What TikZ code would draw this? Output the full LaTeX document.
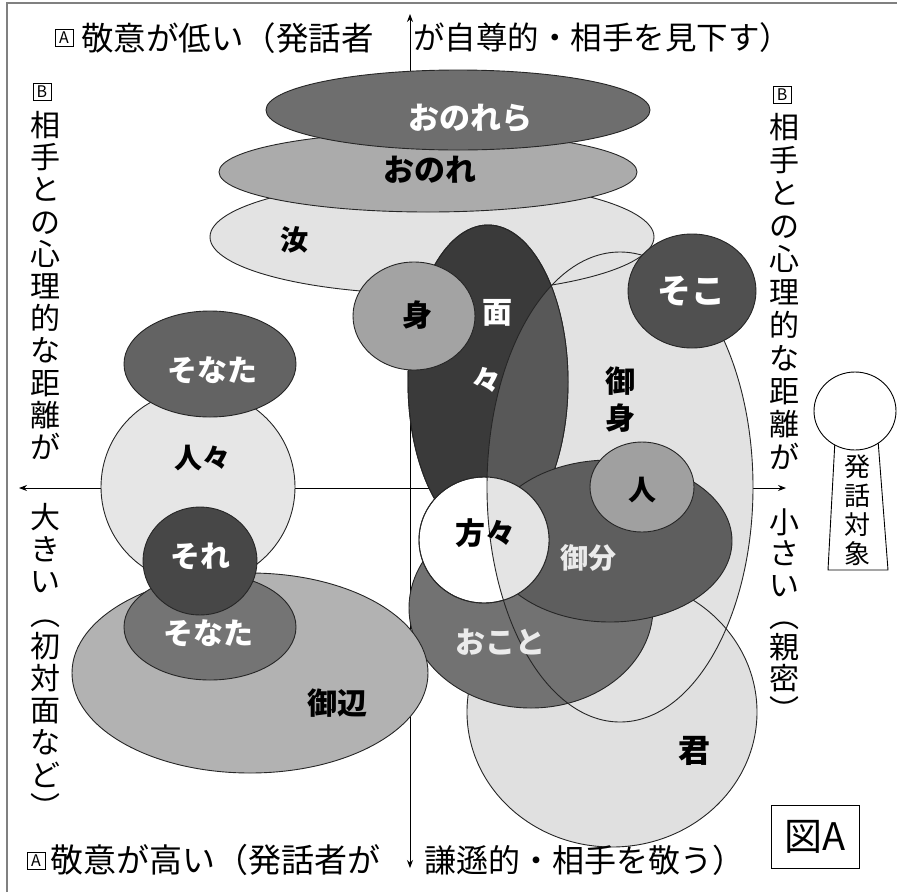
\documentclass[tikz,border=0pt]{standalone}
\usepackage{fontspec}
\newfontfamily\jp{Noto Sans CJK JP}
\usetikzlibrary{arrows.meta}
\definecolor{cOnorera}{HTML}{6E6E6E}
\definecolor{cOnore}{HTML}{ABABAB}
\definecolor{cNanji}{HTML}{E3E3E3}
\definecolor{cMenmen}{HTML}{3A3A3A}
\definecolor{cMenOv}{HTML}{585858}
\definecolor{cMi}{HTML}{A3A3A3}
\definecolor{cOnmi}{HTML}{E2E2E2}
\definecolor{cSoko}{HTML}{505050}
\definecolor{cKimi}{HTML}{E0E0E0}
\definecolor{cOnbun}{HTML}{5E5E5E}
\definecolor{cHito}{HTML}{A0A0A0}
\definecolor{cOkoto}{HTML}{727272}
\definecolor{cKataOv}{HTML}{E4E4E4}
\definecolor{cSonataA}{HTML}{636363}
\definecolor{cHitobito}{HTML}{E6E6E6}
\definecolor{cGohen}{HTML}{B2B2B2}
\definecolor{cSonataB}{HTML}{747474}
\definecolor{cSore}{HTML}{474747}
\definecolor{cPaleTxt}{HTML}{EBEBEB}
\definecolor{cFrame}{HTML}{808080}
\begin{document}
\begin{tikzpicture}[x=1pt,y=-1pt,
  shp/.style={draw=black!85,line width=0.9pt},
  edge/.style={draw=black!85,line width=0.9pt},
  lbl/.style={font=\jp\bfseries\fontsize{#1}{#1}\selectfont,inner sep=0pt,text height=0.88*#1pt,text depth=0.12*#1pt},
  lbl/.default=30,
  axtxt/.style={font=\jp\fontsize{#1}{#1}\selectfont,inner sep=0pt,text height=0.88*#1pt,text depth=0.12*#1pt},
  axtxt/.default=31,
  boxlet/.style={draw,line width=0.8pt,inner sep=1.5pt,minimum width=18pt,minimum height=17pt,font=\jp\fontsize{16}{16}\selectfont},
  axarrow/.style={line width=0.8pt,{Stealth[length=8pt,width=6pt]}-{Stealth[length=8pt,width=6pt]}}]
\useasboundingbox (0,0) rectangle (897,892);
% frame
\draw[cFrame,line width=1.2pt] (7,892) -- (7,3) -- (897,3);
% axes
\coordinate (vtop) at (410,14);
\coordinate (vbot) at (410,868);
\coordinate (hleft) at (19,488);
\coordinate (hright) at (786,488);
\draw[axarrow] (vbot) -- (vtop);
\draw[axarrow] (hleft) -- (hright);
% top group
\path[shp,fill=cNanji] (432,237) ellipse [x radius=222,y radius=57];
\path[shp,fill=cOnore] (428,172) ellipse [x radius=209,y radius=40];
\path[shp,fill=cOnorera] (458,110) ellipse [x radius=192,y radius=40];
% kimi
\path[shp,fill=cKimi] (612,712) ellipse [x radius=145,y radius=135];
% onmi fill
\fill[cOnmi] (620,487) ellipse [x radius=133,y radius=235];
\begin{scope}
  \clip (620,487) ellipse [x radius=133,y radius=235];
  \draw[edge] (432,237) ellipse [x radius=222,y radius=57];
  \draw[edge] (612,712) ellipse [x radius=145,y radius=135];
\end{scope}
% menmen
\path[shp,fill=cMenmen] (488,382) ellipse [x radius=80,y radius=157];
\begin{scope}
  \clip (488,382) ellipse [x radius=80,y radius=157];
  \fill[cMenOv] (620,487) ellipse [x radius=133,y radius=235];
\end{scope}
\draw[edge] (488,382) ellipse [x radius=80,y radius=157];
% mi
\path[shp,fill=cMi] (414,316) ellipse [x radius=61,y radius=54];
% okoto, onbun
\path[shp,fill=cOkoto] (531,608) ellipse [x radius=122,y radius=100];
\path[shp,fill=cOnbun] (610,541) ellipse [x radius=122,y radius=81];
% katagata
\path[shp,fill=white] (484,540) ellipse [x radius=65,y radius=63];
\begin{scope}
  \clip (484,540) ellipse [x radius=65,y radius=63];
  \fill[cKataOv] (620,487) ellipse [x radius=133,y radius=235];
\end{scope}
\draw[edge] (484,540) ellipse [x radius=65,y radius=63];
% onmi outline
\draw[edge] (620,487) ellipse [x radius=133,y radius=235];
% hito, soko
\path[shp,fill=cHito] (642,487) ellipse [x radius=52,y radius=45];
\path[shp,fill=cSoko] (692,291) ellipse [x radius=64,y radius=57];
% left group
\path[shp,fill=cGohen] (250,673) ellipse [x radius=178,y radius=100];
\path[shp,fill=cSonataB] (210,627) ellipse [x radius=86,y radius=53];
\path[shp,fill=cHitobito] (198,487) ellipse [x radius=97,y radius=97];
\path[shp,fill=cSonataA] (210,364) ellipse [x radius=86,y radius=53];
\path[shp,fill=cSore] (200,561) ellipse [x radius=57,y radius=54];
% labels
\node[lbl=31,text=white] (tOnorera) at (470,118) {おのれら};
\node[lbl=31] (tOnore) at (430,170) {おのれ};
\node[lbl=28] (tNanji) at (294,240) {汝};
\node[lbl=30] (tMi) at (417,315) {身};
\node[lbl=30,text=white] (tMen1) at (497,312) {面};
\node[lbl=30,text=white] (tMen2) at (486,380) {々};
\node[lbl=30] (tOnmi1) at (620,381) {御};
\node[lbl=30] (tOnmi2) at (620,418) {身};
\node[lbl=34,text=white] (tSoko) at (691,291) {そこ};
\node[lbl=28] (tHito) at (642,490) {人};
\node[lbl=30] (tKata) at (485,533) {方々};
\node[lbl=28,text=cPaleTxt] (tOnbun) at (588,558) {御分};
\node[lbl=30,text=cPaleTxt] (tOkoto) at (500,642) {おこと};
\node[lbl=32] (tKimi) at (694,750) {君};
\node[lbl=30,text=white] (tSonataA) at (212,370) {そなた};
\node[lbl=28] (tHitobito) at (202,458) {人々};
\node[lbl=30,text=white] (tSore) at (200,556) {それ};
\node[lbl=30,text=white] (tSonataB) at (208,633) {そなた};
\node[lbl=30] (tGohen) at (337,703) {御辺};
% axis texts
\node[boxlet] (bxA1) at (64,38) {A};
\node[axtxt=32.5,anchor=west] (topL) at (81,38) {敬意が低い（発話者};
\node[axtxt=31.5,anchor=west] (topR) at (413,38) {が自尊的・相手を見下す）};
\node[boxlet] (bxA2) at (36,861) {A};
\node[axtxt=33,anchor=west] (botL) at (50,860) {敬意が高い（発話者が};
\node[axtxt=32,anchor=west] (botR) at (424,860) {謙遜的・相手を敬う）};
\node[boxlet] (bxB1) at (42,92) {B};
\node[boxlet] (bxB2) at (782,95) {B};
\foreach \ch [count=\i] in {相,手,と,の,心,理,的,な,距,離,が}
  \node[axtxt=30] (lu\i) at (45,{125+(\i-1)*32.2}) {\ch};
\foreach \ch [count=\i] in {大,き,い,︵,初,対,面,な,ど,︶}
  \node[axtxt=30] (ll\i) at (45,{517+(\i-1)*32.2}) {\ch};
\foreach \ch [count=\i] in {相,手,と,の,心,理,的,な,距,離,が}
  \node[axtxt=30] (ru\i) at (784,{127+(\i-1)*33}) {\ch};
\foreach \ch [count=\i] in {小,さ,い,︵,親,密,︶}
  \node[axtxt=30] (rl\i) at (784,{522+(\i-1)*31.3}) {\ch};
% speaker icon
\draw[line width=0.9pt,fill=white] (835,440) -- (878,440) -- (888,570) -- (828,570) -- cycle;
\draw[line width=0.9pt,fill=white] (855,411) ellipse [x radius=41,y radius=39];
\foreach \ch [count=\i] in {発,話,対,象}
  \node[axtxt=26] (sp\i) at (857,{467+(\i-1)*29}) {\ch};
% figure tag
\node[draw,line width=0.9pt,minimum width=88pt,minimum height=63pt,inner sep=0pt,font=\jp\fontsize{38}{38}\selectfont] (figA) at (815,837) {図A};
\end{tikzpicture}
\end{document}
